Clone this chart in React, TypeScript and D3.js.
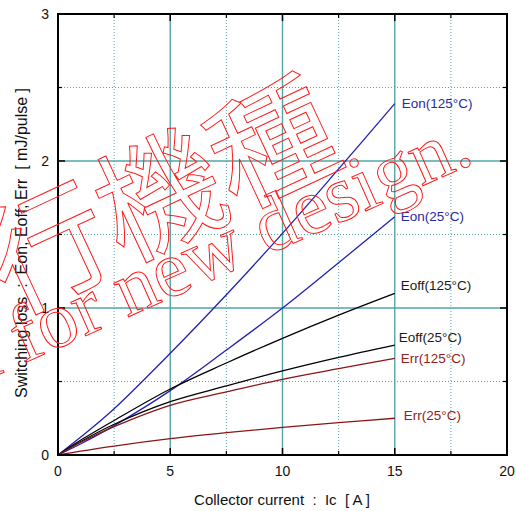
import React from "react";
import * as d3 from "d3";

// Collector current sample points [A]
const currents = [0, 1, 2.5, 5, 7.5, 10, 12.5, 15];

// Switching loss per pulse [mJ]
const eon125 = [0, 0.12, 0.315, 0.692, 1.09, 1.508, 1.946, 2.39];
const eon25 = [0, 0.075, 0.2, 0.438, 0.714, 1.0, 1.308, 1.62];
const eoff125 = [0, 0.1, 0.235, 0.449, 0.626, 0.794, 0.952, 1.1];
const eoff25 = [0, 0.09, 0.209, 0.363, 0.47, 0.572, 0.664, 0.748];
const err125 = [0, 0.085, 0.193, 0.338, 0.429, 0.515, 0.587, 0.658];
const err25 = [0, 0.026, 0.061, 0.111, 0.152, 0.188, 0.22, 0.25];

const seriesNames = ["Eon(125°C)", "Eon(25°C)", "Eoff(125°C)", "Eoff(25°C)", "Err(125°C)", "Err(25°C)"];
const seriesValues = [eon125, eon25, eoff125, eoff25, err125, err25];

const xTicks = [0, 5, 10, 15, 20];
const yTicks = [0, 1, 2, 3];
const xMinor = [2.5, 7.5, 12.5, 17.5];
const yMinor = [0.5, 1.5, 2.5];

// Styling for each curve and its end label
const BLUE = "#2222b0";
const RED = "#8c1414";
const seriesStyle = [
  { line: BLUE, text: "#2a2aa2", dx: 7, dy: 0 },
  { line: BLUE, text: "#2a2aa2", dx: 6, dy: -1 },
  { line: "#000", text: "#1a1a1a", dx: 6, dy: -8 },
  { line: "#000", text: "#1a1a1a", dx: 4, dy: -8 },
  { line: RED, text: "#962020", dx: 6, dy: 0.5 },
  { line: RED, text: "#962020", dx: 9, dy: -2.5 },
];

const W = 516;
const H = 511;
const left = 58;
const right = 507;
const top = 14;
const bottom = 455;

const GRID = "#52a6a6";
const SANS = "Liberation Sans, Arial, sans-serif";

export default function App() {
  const x = d3.scaleLinear().domain([0, 20]).range([left, right]);
  const y = d3.scaleLinear().domain([0, 3]).range([bottom, top]);

  const line = d3
    .line<number>()
    .x((_, i) => x(currents[i]))
    .y((v) => y(v))
    .curve(d3.curveCatmullRom.alpha(0.5));

  const lastX = x(currents[currents.length - 1]);

  return (
    <svg
      width={W}
      height={H}
      viewBox={`0 0 ${W} ${H}`}
      style={{ position: "absolute", left: 0, top: 0, background: "#fff" }}
    >
      <rect x={0} y={0} width={W} height={H} fill="#fff" />

      {/* dotted minor grid */}
      {xMinor.map((v) => (
        <line key={"xm" + v} x1={x(v)} x2={x(v)} y1={top} y2={bottom} stroke={GRID} strokeWidth={1} strokeDasharray="1,2" />
      ))}
      {yMinor.map((v) => (
        <line key={"ym" + v} x1={left} x2={right} y1={y(v)} y2={y(v)} stroke={GRID} strokeWidth={1} strokeDasharray="1,2" />
      ))}
      {/* solid major grid */}
      {xTicks.slice(1, -1).map((v) => (
        <line key={"xg" + v} x1={x(v)} x2={x(v)} y1={top} y2={bottom} stroke={GRID} strokeWidth={1.4} />
      ))}
      {yTicks.slice(1, -1).map((v) => (
        <line key={"yg" + v} x1={left} x2={right} y1={y(v)} y2={y(v)} stroke={GRID} strokeWidth={1.4} />
      ))}

      {/* curves */}
      {seriesValues.map((vals, i) => (
        <path key={seriesNames[i]} d={line(vals) || ""} fill="none" stroke={seriesStyle[i].line} strokeWidth={1.3} />
      ))}

      {/* curve labels */}
      {seriesValues.map((vals, i) => (
        <text
          key={"lbl" + i}
          x={lastX + seriesStyle[i].dx}
          y={y(vals[vals.length - 1]) + seriesStyle[i].dy}
          dy="0.35em"
          fontFamily={SANS}
          fontSize={13.5}
          fill={seriesStyle[i].text}
        >
          {seriesNames[i]}
        </text>
      ))}

      {/* ticks */}
      {xTicks.slice(1, -1).map((v) => (
        <g key={"xt" + v} stroke="#000" strokeWidth={1.5}>
          <line x1={x(v)} x2={x(v)} y1={bottom} y2={bottom - 7} />
          <line x1={x(v)} x2={x(v)} y1={top} y2={top + 7} />
        </g>
      ))}
      {xMinor.map((v) => (
        <g key={"xmt" + v} stroke="#000" strokeWidth={1.2}>
          <line x1={x(v)} x2={x(v)} y1={bottom} y2={bottom - 4} />
          <line x1={x(v)} x2={x(v)} y1={top} y2={top + 4} />
        </g>
      ))}
      {yTicks.slice(1, -1).map((v) => (
        <g key={"yt" + v} stroke="#000" strokeWidth={1.5}>
          <line x1={left} x2={left + 7} y1={y(v)} y2={y(v)} />
          <line x1={right} x2={right - 7} y1={y(v)} y2={y(v)} />
        </g>
      ))}
      {yMinor.map((v) => (
        <g key={"ymt" + v} stroke="#000" strokeWidth={1.2}>
          <line x1={left} x2={left + 4} y1={y(v)} y2={y(v)} />
          <line x1={right} x2={right - 4} y1={y(v)} y2={y(v)} />
        </g>
      ))}

      {/* frame */}
      <rect x={left} y={top} width={right - left} height={bottom - top} fill="none" stroke="#000" strokeWidth={2} />

      {/* tick labels */}
      {xTicks.map((v) => (
        <text key={"xl" + v} x={x(v)} y={476} textAnchor="middle" fontFamily={SANS} fontSize={14} fill="#111">
          {v}
        </text>
      ))}
      {yTicks.map((v) => (
        <text key={"yl" + v} x={49} y={y(v) + 5} textAnchor="end" fontFamily={SANS} fontSize={14} fill="#111">
          {v}
        </text>
      ))}

      {/* axis titles */}
      <text x={282} y={505} textAnchor="middle" fontFamily={SANS} fontSize={15} fill="#111" style={{ whiteSpace: "pre" }}>
        {"Collector current  :  Ic  [ A ]"}
      </text>
      <text
        transform={`translate(26.5,243) rotate(-90)`}
        textAnchor="middle"
        fontFamily={SANS}
        fontSize={16}
        fill="#111"
        style={{ whiteSpace: "pre" }}
      >
        {"Switching loss  :  Eon, Eoff, Err  [ mJ/pulse ]"}
      </text>

      {/* outlined stamp */}
      <g transform="translate(271,142) rotate(-25)">
        <text
          x={62}
          dy="0.38em"
          textAnchor="end"
          fontFamily="Noto Sans CJK JP"
          fontSize={124}
          fill="none"
          stroke="#ff1a1a"
          strokeWidth={1}
        >
          移行機種
        </text>
      </g>
      <g transform="translate(476,162) rotate(-24)">
        <text
          x={0}
          y={0}
          textAnchor="end"
          fontFamily="Liberation Serif, Times New Roman, serif"
          fontSize={80}
          fill="none"
          stroke="#ff1a1a"
          strokeWidth={1}
        >
          Not recommended for new design.
        </text>
      </g>
    </svg>
  );
}
